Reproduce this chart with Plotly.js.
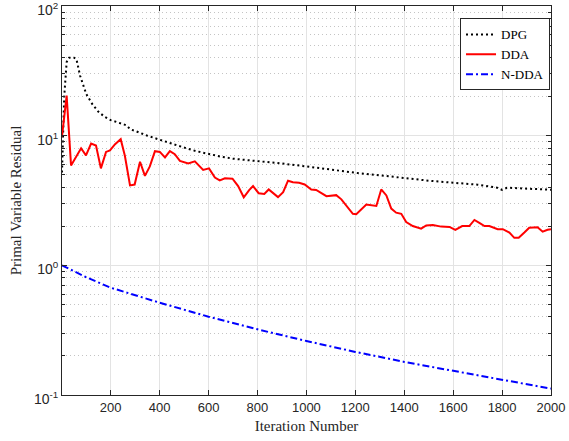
<!DOCTYPE html>
<html>
<head>
<meta charset="utf-8">
<script src="https://cdn.plot.ly/plotly-3.0.1.min.js"></script>
<style>html,body{margin:0;padding:0;background:#fff;}#chart{width:569px;height:441px;}</style>
</head>
<body>
<div id="chart"></div>
<script>
// ---- data ----
const seriesNames = ["DPG", "DDA", "N-DDA"];

const dpgIter = [1, 10, 20, 30, 50, 60, 75, 100, 125, 150, 175, 200, 250, 265, 280, 300, 350, 400, 450, 500, 550, 600, 650, 700, 800, 900, 1000, 1100, 1200, 1300, 1400, 1500, 1600, 1700, 1780, 1800, 1820, 1900, 2000];
const dpgVal  = [5.2, 20, 37, 40, 40, 39, 29, 21, 17.5, 15.3, 14, 13.2, 12.3, 12.0, 11.2, 10.9, 10.0, 9.3, 8.6, 8.1, 7.6, 7.2, 6.9, 6.65, 6.4, 6.1, 5.8, 5.45, 5.18, 4.95, 4.7, 4.5, 4.34, 4.19, 3.97, 3.82, 3.97, 3.9, 3.83];

const ddaIter = [1, 20, 38, 60, 79, 99, 120, 140, 160, 181, 197, 218, 241, 258, 279, 298, 320, 340, 360, 381, 401, 422, 442, 462, 483, 517, 544, 578, 602, 626, 646, 667, 698, 721, 744, 766, 782, 805, 828, 846, 865, 884, 905, 925, 945, 970, 993, 1020, 1040, 1082, 1122, 1143, 1190, 1204, 1245, 1286, 1306, 1327, 1347, 1367, 1388, 1408, 1435, 1469, 1490, 1517, 1551, 1585, 1609, 1637, 1666, 1687, 1707, 1728, 1748, 1782, 1803, 1830, 1850, 1868, 1891, 1911, 1945, 1966, 1986, 2000];
const ddaVal  = [9.9, 20.4, 5.9, 7.0, 8.0, 7.05, 8.7, 8.4, 5.6, 7.5, 7.7, 8.6, 9.4, 7.0, 4.14, 4.2, 6.3, 4.9, 5.8, 7.6, 7.5, 6.8, 7.6, 7.2, 6.4, 6.1, 6.35, 5.45, 5.6, 4.75, 4.52, 4.69, 4.66, 4.09, 3.35, 3.81, 4.09, 3.6, 3.56, 3.85, 3.6, 3.36, 3.67, 4.5, 4.38, 4.33, 4.21, 3.85, 3.82, 3.42, 3.48, 3.23, 2.5, 2.48, 2.95, 2.87, 3.85, 3.46, 2.74, 2.55, 2.5, 2.16, 2.01, 1.92, 2.03, 2.05, 1.99, 1.98, 1.88, 2.01, 2.01, 2.24, 2.13, 2.01, 2.01, 1.9, 1.9, 1.79, 1.63, 1.63, 1.79, 1.95, 1.97, 1.82, 1.88, 1.9];

const nddaIter = [1, 100, 200, 400, 600, 800, 1000, 1200, 1400, 1600, 1800, 2000];
const nddaVal  = [1.0, 0.81, 0.673, 0.515, 0.402, 0.321, 0.261, 0.215, 0.180, 0.153, 0.130, 0.112];

const xTicks = [200, 400, 600, 800, 1000, 1200, 1400, 1600, 1800, 2000];
const yTicks = [0.1, 1, 10, 100];
const yTickText = ["10<sup>-1</sup>", "10<sup>0</sup>", "10<sup>1</sup>", "10<sup>2</sup>"];

// ---- minor tick positions for log axis ----
const yMinor = [];
[0.1, 1, 10].forEach(d => { for (let k = 2; k <= 9; k++) yMinor.push(+(d * k).toPrecision(3)); });

const traces = [
  {x: dpgIter, y: dpgVal, name: seriesNames[0], mode: "lines", line: {color: "#000000", width: 2, dash: "2px,3px"}},
  {x: ddaIter, y: ddaVal, name: seriesNames[1], mode: "lines", line: {color: "#ff0000", width: 2}},
  {x: nddaIter, y: nddaVal, name: seriesNames[2], mode: "lines", line: {color: "#0000ff", width: 2, dash: "7px,3px,2px,3px"}}
];

const axisColor = "#262626";
const layout = {
  width: 569, height: 441,
  margin: {l: 62, r: 18, t: 6, b: 46},
  paper_bgcolor: "#ffffff", plot_bgcolor: "#ffffff",
  showlegend: true,
  legend: {
    x: 0.998, xanchor: "right", y: 0.968, yanchor: "top",
    bgcolor: "#ffffff", bordercolor: axisColor, borderwidth: 1,
    font: {family: "Liberation Serif, serif", size: 13, color: "#000"},
    tracegroupgap: 0
  },
  xaxis: {
    range: [1, 2000],
    tickvals: xTicks, ticktext: xTicks.map(String),
    ticks: "inside", ticklen: 5, tickcolor: axisColor, tickwidth: 1,
    showline: true, linecolor: axisColor, linewidth: 1, mirror: "allticks",
    showgrid: true, gridcolor: "#e3e3e3", gridwidth: 1,
    zeroline: false, ticklabeloverflow: "allow",
    tickfont: {family: "Liberation Sans, Arial, sans-serif", size: 13, color: axisColor},
    title: {text: "Iteration Number", font: {family: "Liberation Serif, serif", size: 15, color: axisColor}, standoff: 6}
  },
  yaxis: {
    type: "log", range: [-1, 2.0006],
    tickvals: yTicks, ticktext: yTickText,
    ticks: "inside", ticklen: 5, tickcolor: axisColor, tickwidth: 1,
    showline: true, linecolor: axisColor, linewidth: 1, mirror: "allticks",
    showgrid: true, gridcolor: "#e3e3e3", gridwidth: 1,
    zeroline: false, ticklabeloverflow: "allow", ticklabelshift: 4,
    minor: {tickmode: "array", tickvals: yMinor, ticks: "inside", ticklen: 3, tickcolor: axisColor,
            showgrid: true, gridcolor: "#c4c4c4", griddash: "1px,3px", gridwidth: 1},
    tickfont: {family: "Liberation Sans, Arial, sans-serif", size: 14, color: axisColor},
    title: {text: "Primal Variable Residual", font: {family: "Liberation Serif, serif", size: 15, color: axisColor}, standoff: 8}
  }
};

Plotly.newPlot("chart", traces, layout, {displayModeBar: false, staticPlot: true});
</script>
</body>
</html>
